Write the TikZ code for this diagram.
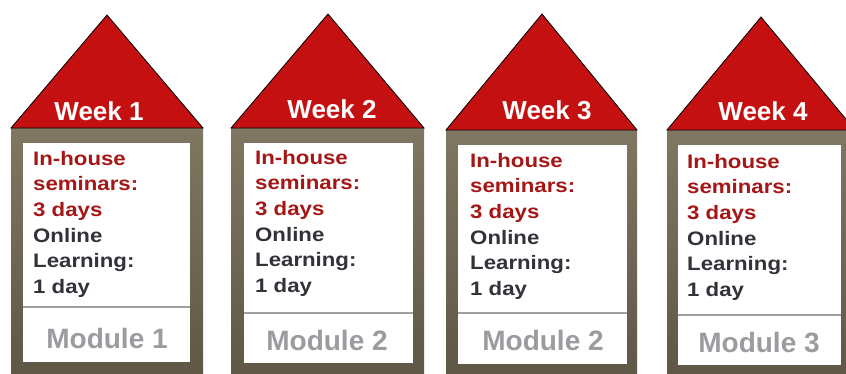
\documentclass[tikz,border=0pt]{standalone}
\usepackage{fontspec}
\setmainfont{Liberation Sans}
\newfontfamily\bodyfont[FakeStretch=1.14]{Liberation Sans}
\usetikzlibrary{positioning}
\definecolor{roofred}{RGB}{196, 16, 16}
\definecolor{darkred}{RGB}{165, 22, 22}
\definecolor{ink}{RGB}{50, 50, 58}
\definecolor{wall}{RGB}{128, 119, 98}
\definecolor{walldark}{RGB}{94, 87, 70}
\definecolor{modgray}{RGB}{155, 156, 160}
\tikzstyle{roof} = [draw=black, line width=0.8pt, fill=roofred, line join=miter]
\tikzstyle{wallbox} = [top color=wall, bottom color=walldark]
\tikzstyle{inner} = [fill=white]
\tikzstyle{divider} = [draw=gray!75, line width=1.5pt]
\tikzstyle{week} = [anchor=base, inner sep=0pt, text=white, font=\bfseries\fontsize{26}{26}\selectfont]
\tikzstyle{info} = [anchor=north west, align=left, inner sep=0pt, text=ink, font=\bodyfont\bfseries\fontsize{19.5}{25.6}\selectfont]
\tikzstyle{module} = [anchor=base, inner sep=0pt, text=modgray, font=\bfseries\fontsize{28}{28}\selectfont]
\newcommand{\red}[1]{\textcolor{darkred}{#1}}

\begin{document}
\begin{tikzpicture}[x=1pt, y=-1pt]

\clip (0,0) rectangle (846,373);

% week 1 =============================
\path[wallbox] (11,128) rectangle (203,380);
\path[inner] (23,143) rectangle (190,362);
\path[divider] (23,307) -- (190,307);
\path[roof] (11,128) -- (107,15) -- (203,128) -- cycle;
\node[week] (week1) at (99,120) {Week 1};
\node[info] (info1) at (33,151) {\red{In-house}\\\red{seminars:}\\\red{3 days}\\Online\\Learning:\\1 day};
\node[module] (mod1) at (107,348) {Module 1};

% week 2 =============================
\path[wallbox] (231,128) rectangle (424,380);
\path[inner] (244,143) rectangle (413,363);
\path[divider] (244,313) -- (413,313);
\path[roof] (231,128) -- (328,14) -- (424,128) -- cycle;
\node[week] (week2) at (332,118) {Week 2};
\node[info] (info2) at (255,150) {\red{In-house}\\\red{seminars:}\\\red{3 days}\\Online\\Learning:\\1 day};
\node[module] (mod2) at (327,350) {Module 2};

% week 3 =============================
\path[wallbox] (446,130) rectangle (637,380);
\path[inner] (458,145) rectangle (627,364);
\path[divider] (458,313) -- (627,313);
\path[roof] (446,130) -- (542,14) -- (637,130) -- cycle;
\node[week] (week3) at (547,119) {Week 3};
\node[info] (info3) at (470,153) {\red{In-house}\\\red{seminars:}\\\red{3 days}\\Online\\Learning:\\1 day};
\node[module] (mod3) at (543,350) {Module 2};

% week 4 =============================
\path[wallbox] (667,130) rectangle (853,380);
\path[inner] (678,145) rectangle (841,365);
\path[divider] (678,315) -- (841,315);
\path[roof] (667,130) -- (761,17) -- (855,130) -- cycle;
\node[week] (week4) at (763,120) {Week 4};
\node[info] (info4) at (687,154) {\red{In-house}\\\red{seminars:}\\\red{3 days}\\Online\\Learning:\\1 day};
\node[module] (mod4) at (759,352) {Module 3};

\end{tikzpicture}
\end{document}
